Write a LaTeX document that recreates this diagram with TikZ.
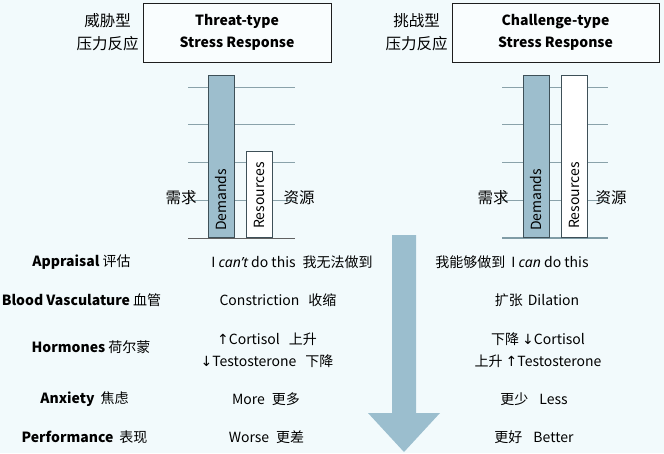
\documentclass[tikz,border=0pt]{standalone}
\usepackage{fontspec}
\setmainfont{Noto Sans CJK SC}[AutoFakeSlant=0.2]
\newfontfamily\arrowfont{DejaVu Sans}
\newfontfamily\latinfont{Noto Sans}
\usepackage{tikz}
\definecolor{pagebg}{RGB}{242,250,252}
\definecolor{inkdark}{RGB}{30,30,30}
\definecolor{barblue}{RGB}{157,190,205}
\definecolor{baredge}{RGB}{62,80,88}
\definecolor{gridgray}{RGB}{138,162,170}
\definecolor{axisblue}{RGB}{128,156,166}
\definecolor{arrowblue}{RGB}{155,190,206}
\colorlet{boxfill}{white!55!pagebg}
\newcommand\bodyfont{\fontsize{14}{22}\selectfont}
\tikzset{
  titlebox/.style={draw=inkdark, semithick, fill=boxfill, font=\bodyfont\bfseries,
    align=center, minimum height=59pt, inner sep=2pt},
  zhtitle/.style={font=\fontsize{15.5}{23}\selectfont, align=center, inner sep=0pt},
  zhside/.style={font=\fontsize{15.5}{18}\selectfont, inner sep=0pt},
  gridline/.style={draw=gridgray, line width=0.7pt},
  axisline/.style={draw=axisblue, line width=1.6pt},
  dembar/.style={draw=baredge, fill=barblue, line width=0.8pt, anchor=south,
    minimum width=26pt, inner sep=0pt},
  resbar/.style={draw=baredge, fill=white, line width=0.8pt, anchor=south,
    minimum width=26pt, inner sep=0pt},
  barlabel/.style={rotate=90, anchor=west, inner sep=0pt, font=\bodyfont},
  rowhead/.style={font=\bodyfont, inner sep=0pt},
  cell/.style={font=\bodyfont, align=center, inner sep=0pt},
}

\begin{document}
\begin{tikzpicture}[x=1pt, y=-1pt]

  \fill[pagebg] (0,0) rectangle (664,453);
  \useasboundingbox (0,0) rectangle (664,453);

  \fill[arrowblue] (392,235) -- (416,235) -- (416,413) -- (440,413) -- (404,452)
    -- (368,413) -- (392,413) -- cycle;

  \node[zhtitle] (threatzh) at (107.5,32) {威胁型\\压力反应};
  \node[titlebox, minimum width=188pt] (threatbox) at (237,32.5) {Threat-type\\Stress Response};
  \node[zhtitle] (challzh) at (416.5,32) {挑战型\\压力反应};
  \node[titlebox, minimum width=207pt] (challbox) at (555.5,32.5) {Challenge-type\\Stress Response};

  \draw[gridline] (188,87) -- (295,87);
  \draw[gridline] (188,124) -- (295,124);
  \draw[gridline] (188,162) -- (295,162);
  \draw[gridline] (188,200) -- (295,200);
  \draw[gridline, draw=inkdark!70] (188,238) -- (295,238);

  \draw[gridline] (502,87) -- (608,87);
  \draw[gridline] (502,124) -- (608,124);
  \draw[gridline] (502,162) -- (608,162);
  \draw[gridline] (502,200) -- (608,200);
  \draw[axisline] (502,238) -- (608,238);

  \node[dembar, minimum height=162pt] (threatdem) at (221,238) {};
  \node[resbar, minimum height=86pt] (threatres) at (259.5,238) {};
  \node[dembar, minimum height=162pt] (challdem) at (536,238) {};
  \node[resbar, minimum height=162pt] (challres) at (574,238) {};

  \node[barlabel] (threatdemtxt) at (221,231) {Demands};
  \node[barlabel] (threatrestxt) at (259.5,229) {Resources};
  \node[barlabel] (challdemtxt) at (536,231) {Demands};
  \node[barlabel] (challrestxt) at (574,229) {Resources};

  \node[zhside] (threatneed) at (181,198) {需求};
  \node[zhside] (threatsrc) at (299,198) {资源};
  \node[zhside] (challneed) at (493,198) {需求};
  \node[zhside] (challsrc) at (611,198) {资源};

  \node[rowhead] (appraisal) at (81.5,262) {\textbf{Appraisal} 评估};
  \node[rowhead] (blood) at (81.5,300) {\textbf{Blood Vasculature} 血管};
  \node[rowhead] (hormones) at (91,347) {\textbf{Hormones} 荷尔蒙};
  \node[rowhead] (anxiety) at (84.5,399) {\textbf{Anxiety}\hspace{6pt}焦虑};
  \node[rowhead] (perform) at (84.5,437) {\textbf{Performance}\hspace{6pt}表现};

  \node[cell] (threatapp) at (292,262) {I {\latinfont\itshape can’t} do this\hspace{7pt}我无法做到};
  \node[cell] (threatblood) at (278,300) {Constriction\hspace{9pt}收缩};
  \node[cell] (threathorm) at (267,350) {{\arrowfont ↑}Cortisol\hspace{9pt}上升\\{\arrowfont ↓}Testosterone\hspace{9pt}下降};
  \node[cell] (threatanx) at (266,399) {More\hspace{7pt}更多};
  \node[cell] (threatperf) at (266.5,437) {Worse\hspace{7pt}更差};

  \node[cell] (challapp) at (512,262) {我能够做到\hspace{6pt}I {\latinfont\itshape can} do this};
  \node[cell] (challblood) at (537,300) {扩张\hspace{5pt}Dilation};
  \node[cell] (challhorm) at (538,350) {下降 {\arrowfont ↓}Cortisol\\上升 {\arrowfont ↑}Testosterone};
  \node[cell] (challanx) at (534,399) {更少\hspace{11pt}Less};
  \node[cell] (challperf) at (534,437) {更好\hspace{11pt}Better};

\end{tikzpicture}
\end{document}
